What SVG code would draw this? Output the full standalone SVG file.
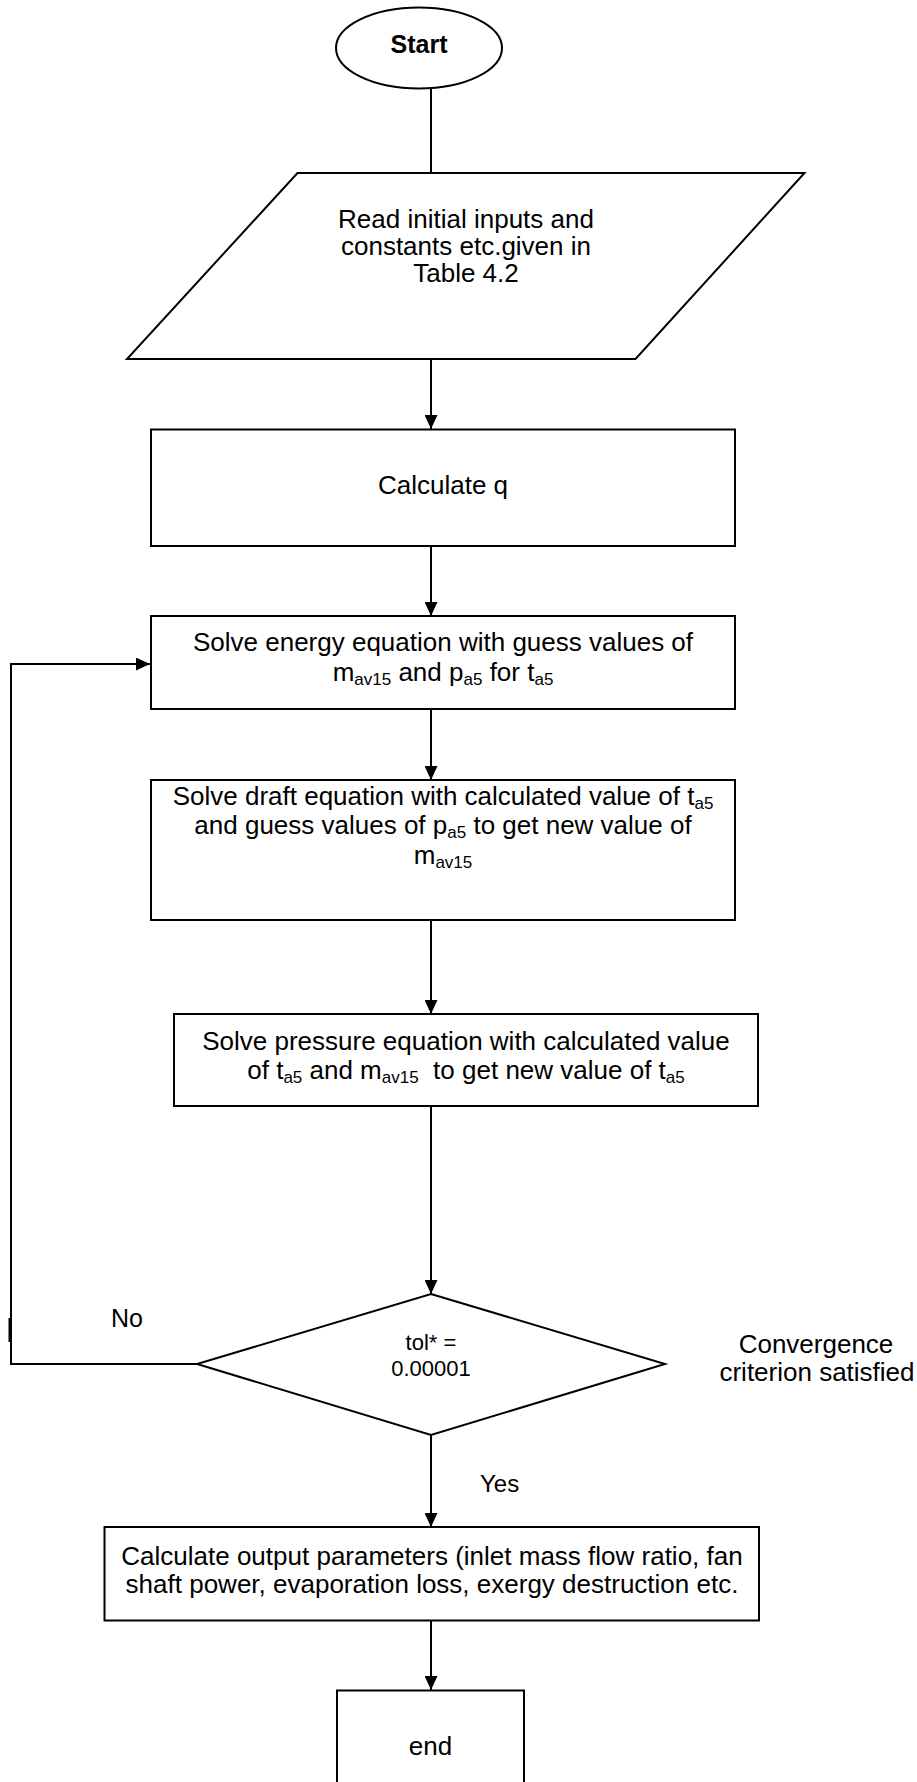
<svg xmlns="http://www.w3.org/2000/svg" width="917" height="1782" viewBox="0 0 917 1782">
<style>
.s{fill:#fff;stroke:#000;stroke-width:2}
.t{font-family:"Liberation Sans",Arial,sans-serif;font-size:26px;fill:#000;text-anchor:middle}
.l{font-family:"Liberation Sans",Arial,sans-serif;font-size:24px;fill:#000}
.c{fill:none;stroke:#000;stroke-width:2}
.sub{font-size:17px}
</style>
<defs>
<marker id="ah" markerUnits="userSpaceOnUse" markerWidth="14" markerHeight="13" refX="14" refY="6.5" orient="auto">
<path d="M0,0 L14,6.5 L0,13 z" fill="#000"/>
</marker>
</defs>
<rect width="917" height="1782" fill="#fff"/>
<g id="connectors">
<path class="c" d="M431,88 V173"/>
<path class="c" d="M431,359 V429" marker-end="url(#ah)"/>
<path class="c" d="M431,546 V616" marker-end="url(#ah)"/>
<path class="c" d="M431,709 V780" marker-end="url(#ah)"/>
<path class="c" d="M431,920 V1014" marker-end="url(#ah)"/>
<path class="c" d="M431,1106 V1294" marker-end="url(#ah)"/>
<path class="c" d="M431,1435 V1527" marker-end="url(#ah)"/>
<path class="c" d="M431,1620 V1690" marker-end="url(#ah)"/>
<path class="c" d="M197,1364 H11 V664 H150" marker-end="url(#ah)"/>
<path class="c" d="M9.5,1318 V1342"/>
<text class="l" x="111" y="1327" style="font-size:25px">No</text>
<text class="l" x="480" y="1492">Yes</text>
</g>
<g id="start">
<ellipse class="s" cx="419" cy="48" rx="83" ry="40.5"/>
<text class="t" x="419" y="53" style="font-weight:bold;font-size:25px">Start</text>
</g>
<g id="read">
<polygon class="s" points="297.5,173 804.5,173 635.5,359 127,359"/>
<text class="t" x="466" y="228">Read initial inputs and</text>
<text class="t" x="466" y="255">constants etc.given in</text>
<text class="t" x="466" y="282">Table 4.2</text>
</g>
<g id="calcq">
<rect class="s" x="151" y="429.5" width="584" height="116.5"/>
<text class="t" x="443" y="494">Calculate q</text>
</g>
<g id="energy">
<rect class="s" x="151" y="616" width="584" height="93"/>
<text class="t" x="443" y="651">Solve energy equation with guess values of</text>
<text class="t" x="443" y="681">m<tspan class="sub" dy="4">av15</tspan><tspan dy="-4"> and p</tspan><tspan class="sub" dy="4">a5</tspan><tspan dy="-4"> for t</tspan><tspan class="sub" dy="4">a5</tspan></text>
</g>
<g id="draft">
<rect class="s" x="151" y="780" width="584" height="140"/>
<text class="t" x="443" y="805">Solve draft equation with calculated value of t<tspan class="sub" dy="4">a5</tspan></text>
<text class="t" x="443" y="834">and guess values of p<tspan class="sub" dy="4">a5</tspan><tspan dy="-4"> to get new value of</tspan></text>
<text class="t" x="443" y="864">m<tspan class="sub" dy="4">av15</tspan></text>
</g>
<g id="pressure">
<rect class="s" x="174" y="1014" width="584" height="92"/>
<text class="t" x="466" y="1050">Solve pressure equation with calculated value</text>
<text class="t" x="466" y="1079">of t<tspan class="sub" dy="4">a5</tspan><tspan dy="-4"> and m</tspan><tspan class="sub" dy="4">av15</tspan><tspan dy="-4" xml:space="preserve">  to get new value of t</tspan><tspan class="sub" dy="4">a5</tspan></text>
</g>
<g id="decision">
<polygon class="s" points="431,1294 665,1364 431,1435 197,1364"/>
<text class="t" x="431" y="1350" style="font-size:22px">tol* =</text>
<text class="t" x="431" y="1376" style="font-size:22px">0.00001</text>
</g>
<g id="converge">
<text class="l" x="816" y="1353" text-anchor="middle" style="font-size:26px">Convergence</text>
<text class="l" x="817" y="1381" text-anchor="middle" style="font-size:26px">criterion satisfied</text>
</g>
<g id="output">
<rect class="s" x="104.5" y="1527" width="654.5" height="93.5"/>
<text class="t" x="432" y="1565">Calculate output parameters (inlet mass flow ratio, fan</text>
<text class="t" x="432" y="1593">shaft power, evaporation loss, exergy destruction etc.</text>
</g>
<g id="end">
<rect class="s" x="337" y="1690.5" width="187" height="110"/>
<text class="t" x="430.5" y="1755">end</text>
</g>
</svg>
